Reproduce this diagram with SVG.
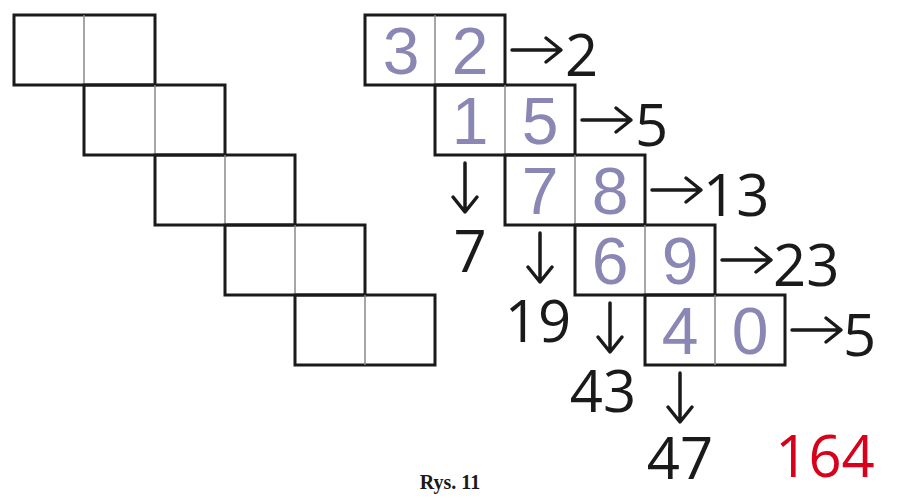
<svg xmlns="http://www.w3.org/2000/svg" width="900" height="498" viewBox="0 0 900 498">
<style>
.o{fill:none;stroke:#1a1a1a;stroke-width:3}
.d{stroke:#888;stroke-width:1.5}
.c{font-family:"Liberation Sans",Arial,sans-serif;font-size:66px;fill:#8a87b5;text-anchor:middle}
.n{font-family:"Open Sans","Liberation Sans",sans-serif;font-size:58px;fill:#1a1a1a}
.a{fill:none;stroke:#1a1a1a;stroke-width:3.5;stroke-linecap:round;stroke-linejoin:round}
</style>
<rect width="900" height="498" fill="#fff"/>
<g id="left">
<g id="l1"><rect class="o" x="14" y="15" width="141" height="70"/><line class="d" x1="84" y1="15" x2="84" y2="85"/></g>
<g id="l2"><rect class="o" x="84" y="85" width="141" height="70"/><line class="d" x1="155" y1="85" x2="155" y2="155"/></g>
<g id="l3"><rect class="o" x="155" y="155" width="140" height="70"/><line class="d" x1="225" y1="155" x2="225" y2="225"/></g>
<g id="l4"><rect class="o" x="225" y="225" width="140" height="70"/><line class="d" x1="295" y1="225" x2="295" y2="295"/></g>
<g id="l5"><rect class="o" x="295" y="295" width="140" height="70"/><line class="d" x1="365" y1="295" x2="365" y2="365"/></g>
</g>
<g id="right">
<g id="r1"><rect class="o" x="365" y="15" width="140" height="70"/><line class="d" x1="435" y1="15" x2="435" y2="85"/><text class="c" x="401" y="74">3</text><text class="c" x="470" y="74">2</text></g>
<g id="r2"><rect class="o" x="435" y="85" width="140" height="70"/><line class="d" x1="505" y1="85" x2="505" y2="155"/><text class="c" x="470" y="144">1</text><text class="c" x="540" y="144">5</text></g>
<g id="r3"><rect class="o" x="505" y="155" width="140" height="70"/><line class="d" x1="575" y1="155" x2="575" y2="225"/><text class="c" x="540" y="214">7</text><text class="c" x="610" y="214">8</text></g>
<g id="r4"><rect class="o" x="575" y="225" width="140" height="70"/><line class="d" x1="645" y1="225" x2="645" y2="295"/><text class="c" x="610" y="284">6</text><text class="c" x="680" y="284">9</text></g>
<g id="r5"><rect class="o" x="645" y="295" width="140" height="70"/><line class="d" x1="715" y1="295" x2="715" y2="365"/><text class="c" x="680" y="354">4</text><text class="c" x="750" y="354">0</text></g>
</g>
<g id="connectors">
<path class="a" d="M512 50H560M546 38L561 50L546 62"/>
<path class="a" d="M582 120H630M616 108L631 120L616 132"/>
<path class="a" d="M652 190H700M686 178L701 190L686 202"/>
<path class="a" d="M722 260H770M756 248L771 260L756 272"/>
<path class="a" d="M792 330H840M826 318L841 330L826 342"/>
<path class="a" d="M465 163V211M453 197L465 212L477 197"/>
<path class="a" d="M540 233V281M528 267L540 282L552 267"/>
<path class="a" d="M610 303V351M598 337L610 352L622 337"/>
<path class="a" d="M680 373V421M668 407L680 422L692 407"/>
</g>
<g id="labels">
<text class="n" x="565" y="76">2</text>
<text class="n" x="635" y="146">5</text>
<text class="n" x="703" y="216">13</text>
<text class="n" x="773" y="286">23</text>
<text class="n" x="843" y="356">5</text>
<text class="n" x="470" y="272" text-anchor="middle">7</text>
<text class="n" x="538" y="342" text-anchor="middle">19</text>
<text class="n" x="603" y="412" text-anchor="middle">43</text>
<text class="n" x="680" y="479" text-anchor="middle">47</text>
<text class="n" x="825" y="477" text-anchor="middle" fill="#d9001b" style="fill:#d9001b">164</text>
<text x="450" y="489" text-anchor="middle" font-family="Liberation Serif,serif" font-weight="bold" font-size="20" fill="#1a1a1a">Rys. 11</text>
</g>
</svg>
